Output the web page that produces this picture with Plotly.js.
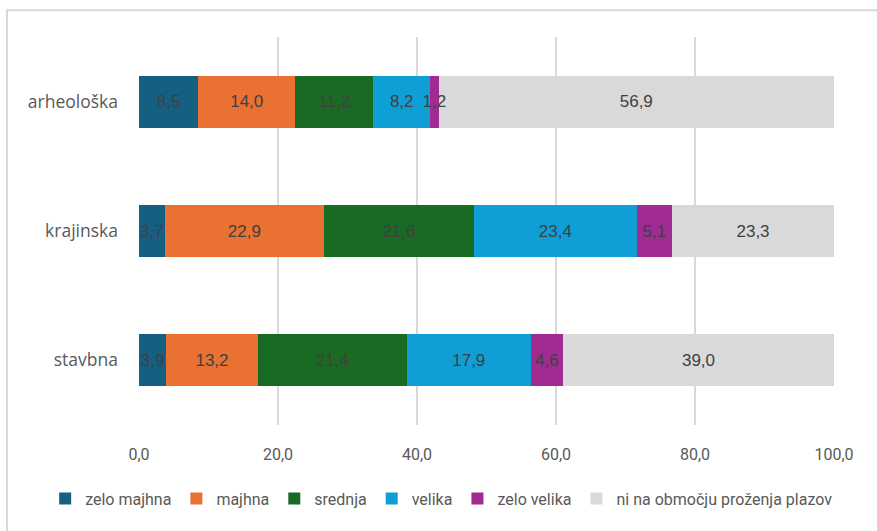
<!DOCTYPE html>
<html>
<head>
<meta charset="utf-8">
<script src="https://cdn.plot.ly/plotly-3.0.1.min.js"></script>
<style>
  body { margin: 0; background: #fff; }
  #graph { width: 877px; height: 531px; }
</style>
</head>
<body>
<div id="graph"></div>
<script>
// categories top to bottom
const categories = ['arheološka', 'krajinska', 'stavbna'];
const seriesNames = ['zelo majhna', 'majhna', 'srednja', 'velika', 'zelo velika', 'ni na območju proženja plazov'];
const zeloMajhna = [8.5, 3.7, 3.9];
const majhna = [14.0, 22.9, 13.2];
const srednja = [11.2, 21.6, 21.4];
const velika = [8.2, 23.4, 17.9];
const zeloVelika = [1.2, 5.1, 4.6];
const niNaObmocju = [56.9, 23.3, 39.0];
const colors = ['#156082', '#e97132', '#196b24', '#0f9ed5', '#a02b93', '#d9d9d9'];

const values = [zeloMajhna, majhna, srednja, velika, zeloVelika, niNaObmocju];
const data = [];

// coloured bars
values.forEach(function (v, i) {
    data.push({
        type: 'bar',
        orientation: 'h',
        name: seriesNames[i],
        y: categories,
        x: v,
        marker: { color: colors[i] },
        textposition: 'none',
        hoverinfo: 'x+name'
    });
});

// same bars again, transparent, on an overlaid axis so the labels sit above every bar
values.forEach(function (v, i) {
    data.push({
        type: 'bar',
        orientation: 'h',
        yaxis: 'y2',
        showlegend: false,
        y: categories,
        x: v,
        marker: { color: 'rgba(0,0,0,0)' },
        texttemplate: '%{x:.1f}',
        textposition: 'inside',
        insidetextanchor: 'middle',
        constraintext: 'none',
        textangle: 0,
        textfont: { family: 'Liberation Sans', size: 17, color: '#404040' },
        hoverinfo: 'skip'
    });
});

const layout = {
    barmode: 'stack',
    bargap: 0.6,
    separators: ',.',
    width: 877,
    height: 531,
    margin: { l: 139, r: 43, t: 37, b: 106 },
    paper_bgcolor: '#ffffff',
    plot_bgcolor: '#ffffff',
    font: { family: 'Open Sans', color: '#595959' },
    xaxis: {
        range: [0, 100],
        dtick: 20,
        tickformat: '.1f',
        showgrid: true,
        gridcolor: '#d9d9d9',
        gridwidth: 2,
        zeroline: false,
        showline: false,
        ticks: '',
        tickfont: { family: 'Roboto', size: 16, color: '#595959' },
        ticklabelstandoff: 18
    },
    yaxis: {
        autorange: 'reversed',
        showgrid: false,
        zeroline: false,
        showline: false,
        ticks: '',
        ticklabelstandoff: 20,
        tickfont: { family: 'Open Sans', size: 17.5, color: '#595959' }
    },
    yaxis2: {
        overlaying: 'y',
        autorange: 'reversed',
        showgrid: false,
        zeroline: false,
        showline: false,
        showticklabels: false,
        ticks: ''
    },
    legend: {
        orientation: 'h',
        x: -0.135,
        xanchor: 'left',
        y: -0.19,
        yanchor: 'middle',
        font: { family: 'Roboto', size: 16, color: '#595959' },
        traceorder: 'normal'
    },
    shapes: [{
        type: 'rect',
        xref: 'paper', yref: 'paper',
        x0: -0.19, x1: 1.2, y0: -0.4, y1: 1.069,
        line: { color: '#d9d9d9', width: 2 },
        fillcolor: 'rgba(0,0,0,0)',
        layer: 'below'
    }],
    showlegend: true
};

Plotly.newPlot('graph', data, layout, { displayModeBar: false, staticPlot: true });
</script>
</body>
</html>
